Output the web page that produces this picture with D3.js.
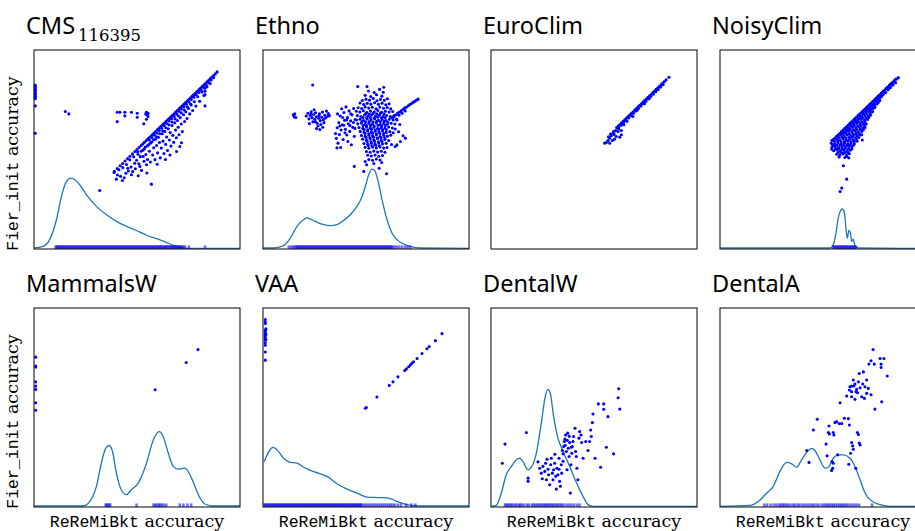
<!DOCTYPE html>
<html>
<head>
<meta charset="utf-8">
<script src="https://cdn.jsdelivr.net/npm/d3@7"></script>
<style>
    body { margin: 0; background: #fff; }
    svg { display: block; }
    .title { font-family: "Noto Sans", sans-serif; font-size: 23.5px; fill: #000; }
    .sub { font-family: "DejaVu Serif", serif; font-size: 16.5px; }
    .mono { font-family: "Liberation Mono", monospace; font-size: 16.5px; }
    .serif { font-family: "DejaVu Serif", serif; font-size: 17.5px; }
</style>
</head>
<body>
<div id="chart"></div>
<script>
// Panel titles, in grid order (row by row)
const panelNames = ["CMS", "Ethno", "EuroClim", "NoisyClim", "MammalsW", "VAA", "DentalW", "DentalA"];
const panelSubs = ["116395", "", "", "", "", "", "", ""];
const xLabelMono = "ReReMiBkt";
const yLabelMono = "Fier_init";
const labelWord = " accuracy";

// ---- CMS ----
const cmsPoints = [
    [0.6,82.4],[0.6,81.7],[0.6,81.0],[0.6,80.3],[0.6,79.6],[0.6,78.9],[0.6,78.2],[0.6,77.5],[0.6,76.8],[0.6,76.1],[0.6,75.5],[0.6,71.9],[0.6,58.2],
    [15.2,69.1],[16.9,67.9],
    [40.4,68.7],[41.7,68.7],[44.1,68.7],[44.1,66.9],[47.3,68.7],[50.1,68.2],[50.1,66.2],[54.6,68.7],[55.4,68.2],[55.4,66.6],[54.6,65.2],[40.4,64.0],[53.3,62.9],[55.0,67.4],[54.2,67.8],
    [31.9,29.4],[57.0,32.6],
    [39.0,39.0],[40.4,40.4],[41.8,41.8],[43.0,43.0],[44.2,44.2],[45.4,45.4],[46.6,46.6],[47.8,47.8],[49.0,49.0],[50.0,50.0],[51.0,51.0],[52.0,52.0],[52.8,52.8],[53.6,53.6],[54.4,54.4],[55.2,55.2],[56.0,56.0],[56.8,56.8],[57.6,57.6],[58.4,58.4],[59.2,59.2],[60.0,60.0],[60.8,60.8],[61.6,61.6],[62.4,62.4],[63.2,63.2],[64.0,64.0],[64.8,64.8],[65.6,65.6],[66.4,66.4],[67.2,67.2],[68.0,68.0],[68.8,68.8],[69.6,69.6],[70.4,70.4],[71.2,71.2],[72.0,72.0],[72.8,72.8],[73.6,73.6],[74.4,74.4],[75.2,75.2],[76.0,76.0],[76.8,76.8],[77.6,77.6],[78.4,78.4],[79.2,79.2],[80.0,80.0],[80.8,80.8],[81.6,81.6],[82.4,82.4],[83.2,83.2],[84.0,84.0],[84.8,84.8],[85.6,85.6],[86.4,86.4],[87.2,87.2],[88.0,88.0],[88.9,89.0],
    [56.0,54.8],[57.2,56.0],[58.4,57.2],[59.6,58.3],[60.8,59.5],[62.0,60.7],[63.2,61.9],[64.4,63.1],[65.6,64.3],[66.8,65.5],[68.0,66.7],[69.2,67.9],[70.4,69.1],[71.6,70.3],[72.8,71.5],[74.0,72.7],[75.2,73.9],[76.4,75.1],[77.6,76.3],[78.8,77.5],[80.0,78.7],[81.2,79.9],[82.4,81.1],[83.6,82.3],[84.8,83.6],[86.0,84.9],[87.2,86.1],
    [50.5,47.6],[52.0,49.1],[53.5,50.3],[55.0,51.8],[56.5,53.2],[58.0,54.9],[59.5,56.4],[61.0,57.9],[62.5,59.3],[64.0,60.9],[65.5,62.4],[67.0,63.8],[68.5,65.4],[70.0,66.9],[71.5,68.4],[73.0,69.8],[74.5,71.3],[76.0,72.9],
    [38.9,38.5],[40.0,35.1],[42.9,34.4],[44.6,38.1],[45.5,40.6],[47.3,37.3],[48.9,43.1],[51.4,41.5],[53.0,46.5],[54.6,42.3],[69.2,49.0],[70.8,51.5],[83.0,71.9],[83.0,77.6],[83.0,79.3],[83.0,80.8],
    [40.5,37.2],[41.2,39.8],[42.0,36.5],[43.1,40.9],[43.8,35.8],[44.9,42.5],[45.8,39.2],[46.5,44.8],[47.1,41.2],[47.9,38.9],[48.4,46.3],[49.2,40.3],[49.8,44.6],[50.3,48.9],[50.9,42.8],[51.6,46.4],[52.2,39.5],[52.8,49.6],[53.4,44.1],[54.0,51.2],[54.3,47.5],[55.1,45.0],[55.6,52.3],[56.0,49.1],[56.5,43.7],[57.2,53.8],[57.6,47.2],[58.1,50.9],[58.7,44.9],[59.0,55.2],[59.5,52.0],[60.0,48.3],[60.4,56.1],[60.9,53.5],[61.3,45.8],[61.8,50.7],[62.2,57.9],[62.6,54.2],[63.1,48.0],[63.5,59.1],[63.9,52.6],[64.4,56.3],[64.8,49.5],[65.2,60.4],[65.7,54.8],[66.1,58.5],[66.5,51.7],[67.0,62.0],[67.4,57.1],[67.8,53.6],[68.3,63.4],[68.7,59.8],[69.1,55.9],[69.6,64.6],[70.0,61.2],[70.4,57.4],[71.0,66.0],[71.5,62.8],[72.0,59.0],[72.6,67.5],[73.1,64.1],[73.7,69.0],[74.3,65.6],[75.0,70.6],[75.6,67.9],[76.3,72.4],[77.0,69.6],[77.8,74.0],[78.6,71.8],[79.5,76.5],[80.4,74.2],[81.5,78.9],[82.5,77.1],[84.0,81.5],[85.5,83.2],[71.6,53.4],[66.0,47.2],[59.8,42.6],[54.8,38.2],[50.6,36.8],[63.8,45.0]
];
const cmsDensity = [
    [0,0.5],[4.4,1.3],[7.6,4.7],[10.9,14.7],[13.3,26.4],[15.7,33.9],[17.8,35.6],[19.8,34.8],[22.2,32.3],[25.4,27.3],[30.3,21.4],[35.2,17.2],[40.0,13.9],[44.9,11.4],[48.1,10.0],[51.4,8.5],[54.6,6.9],[59.5,5.2],[64.3,3.3],[67.6,1.8],[70.8,0.7],[74.1,0.3],[100,0.3]
];
const cmsRug = [
    10.5,11.0,11.5,12.0,12.5,13.0,13.5,14.0,14.5,15.0,15.5,16.0,16.5,17.0,17.5,18.0,18.5,19.0,19.5,20.0,20.5,21.0,21.5,22.0,22.5,23.0,23.5,24.0,24.5,
    25.0,25.5,26.0,26.5,27.0,27.5,28.0,28.5,29.0,29.5,30.0,30.5,31.0,31.5,32.0,32.5,33.0,33.5,34.0,34.5,35.0,35.5,36.0,36.5,37.0,37.5,38.0,38.5,39.0,39.5,
    40.0,40.5,41.0,41.5,42.0,42.5,43.0,43.5,44.0,44.5,45.0,45.5,46.0,46.5,47.0,47.5,48.0,48.5,49.0,49.5,50.0,50.5,51.0,51.5,52.0,52.5,53.0,53.5,54.0,54.5,
    55.0,55.5,56.0,56.5,57.0,57.5,58.0,58.5,59.0,59.5,60.0,60.5,61.0,61.5,62.0,62.5,63.0,63.5,64.0,64.5,65.0,65.5,66.0,66.5,67.0,67.5,68.0,68.5,69.0,69.5,
    70.0,70.5,71.0,71.5,72.0,72.6,73.3,75.2,83.0
];

// ---- Ethno ----
const ethnoPoints = [
    [14.7,67.5],[15.1,66.4],[15.4,67.9],[15.9,66.1],[24.1,82.4],
    [21.0,66.8],[21.8,68.2],[22.3,65.4],[22.9,67.1],[23.4,69.0],[23.8,66.0],[24.2,63.9],[24.6,67.6],[25.1,65.2],[25.5,68.5],[25.9,66.4],[26.3,63.2],[26.7,61.8],[27.0,65.7],[27.4,67.9],[27.8,64.5],[28.1,62.6],[28.5,66.2],[28.9,68.8],[29.3,65.0],[29.6,63.5],[30.0,67.2],[30.4,65.8],[30.8,69.3],[31.2,66.6],[31.7,68.1],[32.2,67.0],[26.0,60.5],[27.6,60.0],[24.8,70.0],[22.5,63.0],[29.0,61.2],[25.4,64.0],[23.3,67.7],[27.2,66.9],
    [35.2,58.0],[35.6,55.6],[36.0,60.9],[36.4,53.2],[36.8,63.5],[37.1,57.5],[37.5,66.8],[37.9,59.8],[38.2,70.5],[38.5,62.4],[38.9,55.0],[39.3,68.6],[39.6,64.7],[40.0,60.2],[40.3,71.4],[40.7,57.3],[41.0,66.0],[41.4,62.9],[41.8,69.4],[42.1,59.1],[42.5,64.4],[42.9,52.4],[43.2,67.4],[43.6,61.2],[44.0,70.6],[44.3,56.6],[44.7,65.1],[36.2,67.9],[37.7,51.0],[38.7,66.1],[39.8,58.4],[41.2,54.0],[42.6,68.0],[43.9,63.6],[40.6,64.8],[37.3,61.8],[35.9,50.8],[39.2,62.2],[42.2,62.0],[44.6,60.6],
    [51.2,79.4],[54.0,78.6],[56.6,80.2],[58.4,78.8],[49.6,77.2],[52.3,76.6],[55.1,77.5],[57.7,76.8],[50.5,81.6],[58.6,81.3],[46.0,81.6],
    [48.2,74.6],[50.0,75.3],[51.7,74.8],[53.5,75.6],[55.3,74.5],[57.0,75.2],[58.9,74.7],[60.4,75.5],
    [47.1,73.4],[48.9,72.6],[50.6,73.2],[52.4,72.8],[54.2,73.5],[56.0,72.7],[57.8,73.3],[59.6,72.5],[61.2,73.0],
    [46.2,71.0],[47.9,70.6],[49.6,71.4],[51.3,70.8],[53.1,71.2],[54.9,70.5],[56.7,71.3],[58.5,70.7],[60.3,71.1],[62.0,70.4],
    [45.3,69.2],[47.0,68.8],[48.7,69.5],[50.4,68.6],[52.2,69.3],[54.0,68.9],[55.8,69.6],[57.6,68.7],[59.4,69.2],[61.2,68.8],[63.0,69.1],
    [45.8,67.0],[47.5,66.6],[49.3,67.3],[51.0,66.8],[52.8,67.4],[54.6,66.7],[56.4,67.2],[58.2,66.5],[60.0,67.1],[61.8,66.6],[63.6,67.0],
    [45.4,64.8],[47.1,65.2],[48.9,64.6],[50.6,65.3],[52.4,64.9],[54.2,65.4],[56.0,64.7],[57.8,65.1],[59.6,64.6],[61.4,65.2],[63.2,64.8],[64.8,65.3],
    [46.0,62.9],[47.8,63.3],[49.6,62.7],[51.4,63.2],[53.2,62.8],[55.0,63.4],[56.8,62.6],[58.6,63.1],[60.4,62.7],[62.2,63.2],[64.0,62.8],
    [46.6,61.0],[48.4,60.6],[50.2,61.3],[52.0,60.8],[53.8,61.2],[55.6,60.5],[57.4,61.1],[59.2,60.7],[61.0,61.3],[62.8,60.8],
    [47.2,59.1],[49.0,58.7],[50.8,59.3],[52.6,58.6],[54.4,59.2],[56.2,58.8],[58.0,59.4],[59.8,58.6],[61.6,59.0],[63.2,58.4],
    [47.8,57.0],[49.6,56.6],[51.4,57.2],[53.2,56.8],[55.0,57.3],[56.8,56.5],[58.6,57.1],[60.4,56.7],[62.0,57.2],
    [48.4,55.2],[50.2,54.7],[52.0,55.3],[53.8,54.8],[55.6,55.4],[57.4,54.6],[59.2,55.1],[61.0,54.5],
    [49.0,53.0],[50.8,52.6],[52.6,53.2],[54.4,52.7],[56.2,53.3],[58.0,52.8],[59.8,53.1],[62.4,52.5],
    [49.6,51.1],[51.4,50.6],[53.2,51.2],[55.0,50.8],[56.8,51.3],[58.6,50.7],[60.2,51.0],
    [50.2,49.0],[52.0,48.6],[53.8,49.2],[55.6,48.7],[57.4,49.1],[59.2,48.6],
    [50.8,47.1],[52.6,46.7],[54.4,47.2],[56.2,46.6],[58.0,47.0],
    [51.4,45.0],[53.2,44.6],[55.0,45.2],[56.8,44.7],
    [44.3,41.5],[48.9,39.0],[50.3,42.3],[53.8,43.0],[56.4,40.6],[60.0,37.8],[57.6,43.5],[49.6,44.0],
    [49.8,68.0],[51.6,67.8],[53.4,68.1],[55.2,67.9],[57.0,68.2],[58.8,67.8],
    [48.5,66.0],[50.3,65.9],[52.1,66.1],[53.9,65.8],[55.7,66.2],[57.5,65.9],[59.3,66.0],
    [48.0,64.0],[49.8,63.9],[51.6,64.1],[53.4,63.8],[55.2,64.2],[57.0,63.9],[58.8,64.0],[60.6,63.8],
    [48.6,62.0],[50.4,61.9],[52.2,62.1],[54.0,61.8],[55.8,62.1],[57.6,61.9],[59.4,62.0],
    [49.1,60.0],[50.9,59.9],[52.7,60.1],[54.5,59.8],[56.3,60.1],[58.1,59.9],[59.9,60.0],
    [49.6,58.0],[51.4,57.9],[53.2,58.1],[55.0,57.8],[56.8,58.0],[58.6,58.1],
    [50.1,56.0],[51.9,55.9],[53.7,56.1],[55.5,55.8],[57.3,56.0],[59.1,55.9],
    [50.6,54.0],[52.4,53.9],[54.2,54.1],[56.0,53.8],[57.8,54.0],
    [51.1,52.0],[52.9,51.9],[54.7,52.1],[56.5,51.8],
    [63.5,66.4],[64.6,67.5],[65.4,68.3],[66.3,68.8],[67.1,69.5],[68.0,70.2],[68.8,70.9],[69.7,71.3],[70.5,72.0],[71.3,72.6],[72.2,73.2],[73.0,73.8],[73.8,74.3],[74.6,74.9],[75.3,75.3],[66.0,67.2],[67.5,68.2],[69.0,69.4],[62.8,66.0],[65.0,64.8],
    [68.0,56.9],[69.1,55.7],[66.7,54.0],[65.0,52.3],[64.2,51.5],[64.2,60.3],[65.8,58.9],[66.4,62.6]
];
const ethnoDensity = [
    [0,0.5],[5.2,0.5],[10.0,1.7],[13.3,5.5],[16.5,11.4],[19.7,14.7],[21.4,15.6],[23.8,14.7],[27.8,12.7],[32.7,11.7],[35.9,12.2],[39.2,14.4],[42.4,17.2],[45.6,21.4],[48.1,26.4],[49.7,31.4],[51.3,37.3],[52.9,40.1],[54.2,39.5],[55.7,34.8],[57.8,24.7],[60.2,14.7],[62.6,8.0],[65.0,4.7],[68.3,2.5],[71.5,1.3],[76.4,0.5],[100,0.3]
];
const ethnoRug = [
    12.5,13.6,14.5,15.3,16.0,16.5,17.0,17.5,18.0,18.5,19.0,19.5,20.0,20.5,21.0,21.5,22.0,22.5,23.0,23.5,24.0,24.5,25.0,25.5,26.0,26.5,27.0,27.5,28.0,28.5,
    29.0,29.5,30.0,30.5,31.0,31.5,32.0,32.5,33.0,33.5,34.0,34.5,35.0,35.5,36.0,36.5,37.0,37.5,38.0,38.5,39.0,39.5,40.0,40.5,41.0,41.5,42.0,42.5,43.0,43.5,
    44.0,44.5,45.0,45.5,46.0,46.5,47.0,47.5,48.0,48.5,49.0,49.5,50.0,50.5,51.0,51.5,52.0,52.5,53.0,53.5,54.0,54.5,55.0,55.5,56.0,56.5,57.0,57.5,58.0,58.5,
    59.0,59.5,60.0,60.5,61.0,61.5,62.0,62.5,63.0,64.0,65.0,66.2,67.5,69.0,70.2,71.5
];

// ---- EuroClim ----
const euroPoints = [
    [61.0,61.0],[61.8,61.8],[62.6,62.6],[63.4,63.4],[64.2,64.2],[65.0,65.0],[65.8,65.8],[66.6,66.6],[67.4,67.4],[68.2,68.2],[69.0,69.0],[69.8,69.8],[70.6,70.6],[71.4,71.4],[72.2,72.2],[73.0,73.0],[73.8,73.8],[74.6,74.6],[75.4,75.4],[76.2,76.2],[77.0,77.0],[77.8,77.8],[78.6,78.6],[79.4,79.4],[80.2,80.2],[81.0,81.0],[81.8,81.8],[82.6,82.6],[83.4,83.4],[84.2,84.2],[85.0,85.0],[86.4,86.3],
    [62.0,61.0],[63.2,62.2],[64.4,63.4],[65.6,64.6],[66.8,65.8],[68.0,67.0],[69.2,68.2],[70.4,69.4],[71.6,70.6],[72.8,71.8],[74.0,73.0],[75.2,74.2],[76.4,75.4],[77.6,76.6],[78.8,77.8],[80.0,79.0],[81.2,80.2],[82.4,81.4],[83.6,82.6],
    [55.2,53.2],[56.0,53.5],[56.8,54.5],[57.6,55.7],[58.4,56.9],[59.2,58.2],[59.5,59.0],[60.5,59.5],[61.7,59.0],[63.3,59.5],[63.3,57.4],[62.5,56.2],[60.8,56.5],[58.9,54.5],[57.6,53.2],[60.0,55.2],[61.7,61.2],[58.0,57.8],[59.8,57.6],[62.0,60.4],[57.0,56.4],[64.5,62.5],[66.0,64.2],[68.1,67.4],[68.9,66.6],[71.0,69.8],[80.3,79.9],[82.2,81.5],[74.5,73.0],[76.8,75.6]
];

// ---- NoisyClim ----
const noisyPoints = [
    [55.0,55.0],[55.8,55.8],[56.6,56.6],[57.4,57.4],[58.2,58.2],[59.0,59.0],[59.8,59.8],[60.6,60.6],[61.4,61.4],[62.2,62.2],[63.0,63.0],[63.8,63.8],[64.6,64.6],[65.4,65.4],[66.2,66.2],[67.0,67.0],[67.8,67.8],[68.6,68.6],[69.4,69.4],[70.2,70.2],[71.0,71.0],[71.8,71.8],[72.6,72.6],[73.4,73.4],[74.2,74.2],[75.0,75.0],[75.8,75.8],[76.6,76.6],[77.4,77.4],[78.2,78.2],[79.0,79.0],[79.8,79.8],[80.6,80.6],[81.4,81.4],[82.2,82.2],[83.0,83.0],[83.8,83.8],[84.6,84.6],[85.4,85.4],[86.6,86.1],
    [60.0,58.4],[61.2,59.6],[62.4,60.8],[63.6,62.0],[64.8,63.2],[66.0,64.4],[67.2,65.6],[68.4,66.8],[69.6,68.0],[70.8,69.2],[72.0,70.4],[73.2,71.6],[74.4,72.8],[75.6,74.0],[76.8,75.2],[78.0,76.4],[79.2,77.6],[80.4,78.8],[81.6,80.0],[82.8,81.2],[84.0,82.4],[85.2,83.6],
    [56.6,47.6],[58.2,47.2],[59.8,47.8],[61.4,47.3],[62.8,47.9],
    [55.2,49.4],[56.8,49.8],[58.4,49.3],[60.0,49.7],[61.6,49.2],[63.2,49.6],
    [54.4,51.2],[56.0,51.5],[57.6,51.0],[59.2,51.4],[60.8,51.1],[62.4,51.6],[64.0,51.2],
    [54.0,53.1],[55.6,52.8],[57.2,53.3],[58.8,52.9],[60.4,53.2],[62.0,52.8],[63.6,53.3],[65.2,52.9],
    [55.0,54.8],[56.6,55.2],[58.2,54.9],[59.8,55.3],[61.4,54.7],[63.0,55.1],[64.6,54.8],[66.2,55.2],[68.8,57.4],[69.1,54.8],
    [57.0,56.8],[58.6,57.2],[60.2,56.9],[61.8,57.3],[63.4,56.8],[65.0,57.1],[66.6,56.9],[68.0,57.3],
    [59.2,59.0],[60.8,58.8],[62.4,59.2],[64.0,58.9],[65.6,59.3],[67.2,58.8],[68.8,59.1],
    [61.2,61.0],[62.8,60.8],[64.4,61.2],[66.0,60.9],[67.6,61.3],[69.2,60.8],[70.4,61.1],
    [63.2,63.0],[64.8,62.8],[66.4,63.2],[68.0,62.9],[69.6,63.1],[71.0,62.8],
    [65.2,65.0],[66.8,64.8],[68.4,65.2],[70.0,64.9],[71.6,65.1],
    [67.2,67.0],[68.8,66.8],[70.4,67.1],[72.0,66.8],[73.0,67.2],
    [69.2,69.0],[70.8,68.8],[72.4,69.1],[73.6,68.7],[74.1,69.1],[74.4,70.7],
    [71.2,71.0],[72.8,70.8],[74.4,70.7],[75.2,71.2],
    [73.2,73.0],[74.8,72.8],[76.2,72.9],
    [75.2,75.0],[76.6,74.8],[77.6,74.6],
    [77.1,77.0],[78.4,76.7],[79.0,79.0],[80.2,78.6],[81.0,81.0],[81.9,80.5],[83.0,83.0],[83.8,82.6],[85.8,85.4],
    [57.4,48.5],[59.0,48.4],[60.6,48.6],[62.2,48.5],
    [56.0,50.4],[57.6,50.5],[59.2,50.3],[60.8,50.5],[62.4,50.4],[64.0,50.3],
    [55.2,52.2],[56.8,52.1],[58.4,52.3],[60.0,52.2],[61.6,52.1],[63.2,52.3],[64.8,52.1],
    [55.6,54.0],[57.2,54.1],[58.8,53.9],[60.4,54.0],[62.0,54.1],[63.6,53.9],[65.2,54.0],[66.6,54.2],
    [57.8,56.0],[59.4,56.1],[61.0,55.9],[62.6,56.0],[64.2,56.1],[65.8,55.9],[67.4,56.0],
    [59.6,58.0],[61.2,58.1],[62.8,57.9],[64.4,58.0],[66.0,58.1],[67.6,57.9],
    [61.6,60.0],[63.2,60.1],[64.8,59.9],[66.4,60.0],[68.0,60.1],[69.6,59.9],
    [63.6,62.0],[65.2,62.1],[66.8,61.9],[68.4,62.0],[70.0,62.1],
    [65.6,64.0],[67.2,64.1],[68.8,63.9],[70.4,64.0],
    [67.6,66.0],[69.2,66.1],[70.8,65.9],[72.2,66.1],
    [69.6,68.0],[71.2,68.1],[72.8,67.9],
    [71.6,70.0],[73.2,70.1],[73.6,72.0],[75.0,71.8],[75.6,74.0],[76.8,73.6],[77.6,76.0],[79.4,78.0],
    [54.3,54.5],[54.8,52.0],[54.2,50.2],
    [59.9,41.8],[61.5,35.1],[59.1,30.6],[58.3,28.9],[60.6,46.0],[62.5,45.8],[57.8,46.2],[61.5,46.5]
];
const noisyDensity = [
    [0,0.5],[53.4,0.5],[55.0,2.2],[56.3,8.0],[57.4,15.6],[58.6,19.4],[59.5,20.1],[60.4,18.1],[61.2,9.7],[61.8,5.5],[62.6,9.4],[63.3,8.0],[63.9,3.8],[64.7,5.0],[65.5,1.7],[67.2,0.5],[100,0.3]
];
const noisyRug = [
    55.0,55.5,56.0,56.5,57.0,57.5,58.0,58.5,59.0,59.5,60.0,60.5,61.0,61.5,62.0,62.5,63.0,63.5,64.0,64.5,65.0,65.5,66.0
];

// ---- MammalsW ----
const mammalsPoints = [
    [0.8,75.3],[0.8,70.8],[0.8,70.3],[0.8,62.9],[0.8,60.8],[0.8,59.1],[0.8,52.4],[0.8,48.6],
    [58.8,58.9],[73.9,72.6],[79.6,79.1]
];
const mammalsDensity = [
    [0,0.5],[23.8,0.5],[27.1,2.8],[30.3,10.4],[32.7,22.0],[34.8,29.5],[36.5,30.9],[38.1,27.9],[40.0,17.0],[42.5,8.3],[44.9,6.2],[47.3,8.7],[50.6,12.0],[54.6,22.0],[57.9,33.7],[60.8,37.9],[62.7,35.4],[65.2,27.0],[67.6,20.4],[70.0,19.0],[73.3,19.5],[75.7,16.2],[78.1,10.4],[80.6,4.5],[83.0,1.5],[87.0,0.5],[100,0.5]
];
const mammalsRug = [34.8,35.2,35.8,36.5,37.0,49.8,58.0,58.8,59.6,60.5,61.2,62.0,63.0,64.2,70.8,72.5,74.5,76.3];

// ---- VAA ----
const vaaPoints = [
    [1.1,94.2],[1.1,93.0],[1.1,92.2],[1.1,88.8],[1.1,88.0],[1.1,87.1],[1.1,86.3],[1.1,85.5],[1.1,84.6],[1.1,83.8],[1.1,82.5],[1.1,81.3],[1.1,77.9],[1.1,73.8],[1.4,89.5],[1.4,86.8],[1.4,84.2],
    [49.7,49.6],[50.2,50.0],[55.3,55.3],[61.3,61.1],[63.1,62.9],[65.5,65.4],[68.8,68.6],[69.6,69.4],[70.7,70.5],[71.5,71.3],[72.3,72.2],[73.1,73.0],[74.8,74.6],[77.2,77.1],[79.6,79.5],[80.7,80.6],[83.7,83.6],[86.9,87.1]
];
const vaaDensity = [
    [0.6,22.9],[4.9,30.0],[6.8,28.7],[10.0,24.5],[12.5,22.7],[16.5,22.0],[20.6,19.5],[25.4,17.5],[31.1,15.4],[35.9,11.7],[40.8,9.0],[45.6,7.0],[50.5,5.0],[53.7,4.8],[58.6,4.7],[61.8,4.2],[65.0,2.8],[69.9,1.2],[74.8,0.5],[100,0.5]
];
const vaaRug = [
    0.5,1.0,1.5,2.0,2.5,3.0,3.5,4.0,4.5,5.0,5.5,6.0,6.5,7.0,7.5,8.0,8.5,9.0,9.5,10.0,10.5,11.0,11.5,12.0,12.5,13.0,13.5,14.0,14.5,15.0,
    15.5,16.0,16.5,17.0,17.5,18.0,18.5,19.0,19.5,20.0,20.5,21.0,21.5,22.0,22.5,23.0,23.5,24.0,24.5,25.0,25.5,26.0,26.5,27.0,27.5,28.0,28.5,29.0,29.5,30.0,
    30.5,31.0,31.5,32.0,32.5,33.0,33.5,34.0,34.5,35.0,35.5,36.0,36.5,37.0,37.5,38.0,38.5,39.0,39.5,40.0,40.5,41.0,41.5,42.0,42.5,43.0,43.5,44.0,44.5,45.0,
    45.5,46.0,46.5,47.0,47.5,48.0,49.0,50.0,51.0,52.0,53.0,54.0,55.0,56.0,57.0,58.0,59.0,60.0,61.0,62.0,63.0,64.0,65.5,67.0,69.5,72.0,74.0
];

// ---- DentalW ----
const dentalWPoints = [
    [5.5,22.0],[6.8,31.6],[17.2,37.4],[18.0,14.5],[18.0,12.9],[22.8,22.7],[23.6,19.5],[24.4,17.0],[24.9,14.2],[25.2,20.4],[26.1,17.9],[26.5,22.0],[26.9,13.7],[27.7,19.0],[28.0,16.2],[28.5,11.2],[29.0,21.2],[29.3,24.5],[29.8,17.0],[30.1,13.7],
    [30.4,18.7],[30.9,22.0],[31.4,15.4],[31.7,9.0],[32.0,19.5],[32.5,16.2],[33.0,24.5],[33.3,12.9],[33.7,10.4],[34.1,21.2],[34.3,17.0],[34.6,28.4],[35.0,26.7],[35.3,30.4],[35.6,32.9],[35.9,34.1],[36.2,36.2],[36.6,27.9],[36.9,18.7],[37.2,37.1],
    [37.5,29.5],[37.9,25.4],[38.2,32.4],[38.5,7.0],[38.8,21.2],[39.2,27.0],[39.5,30.4],[39.8,32.9],[40.1,35.4],[40.8,39.6],[41.1,27.9],[41.4,25.4],[41.7,19.5],[42.2,13.7],[42.7,34.6],[43.0,37.9],[43.7,36.2],[44.0,32.4],[44.7,24.5],[46.0,32.9],
    [47.1,28.4],[47.9,32.9],[48.4,38.7],[48.7,35.4],[49.2,42.4],[49.5,46.7],[50.5,24.5],[52.1,51.8],[53.2,20.0],[54.7,51.8],[54.7,49.1],[56.0,30.0],[56.8,45.4],[59.5,26.7],[61.7,54.9],[62.0,59.4],[62.5,49.2],
    [27.2,24.0],[31.0,26.5],[36.0,31.0],[38.0,35.5],[39.0,30.0],[35.0,23.0],[33.0,19.0],[37.0,33.5]
];
const dentalWDensity = [
    [0,0.3],[2.6,0.8],[5.0,7.0],[7.4,16.2],[9.9,20.4],[12.3,23.7],[13.9,24.5],[15.5,22.9],[17.9,18.7],[19.6,20.0],[22.0,27.0],[24.4,42.1],[26.5,56.3],[27.7,59.1],[28.8,57.1],[30.4,45.4],[32.5,34.6],[35.0,27.9],[38.2,20.4],[41.4,12.4],[44.7,5.3],[47.1,1.2],[49.5,0.3],[100,0.3]
];
const dentalWRug = [
    6.8,7.5,8.2,9.0,9.8,10.5,11.6,12.4,13.5,14.2,15.0,16.1,17.5,18.3,19.8,20.6,21.4,22.3,23.1,24.0,24.8,25.6,26.3,27.1,27.8,28.6,29.4,30.1,31.0,31.8,32.6,33.5,34.3,35.2,36.6,37.8,39.0,40.3,41.8,43.0
];

// ---- DentalA ----
const dentalAPoints = [
    [42.1,28.4],[43.2,22.4],[45.3,38.7],[47.2,44.1],[51.5,31.6],[52.0,25.7],[52.6,37.4],[52.9,40.7],[53.1,36.7],[55.0,37.4],[55.3,36.2],[55.8,42.4],[56.6,42.9],[57.9,41.9],[59.1,41.9],
    [54.4,22.9],[54.7,19.5],[54.2,18.4],[55.0,22.0],[57.1,26.2],[58.3,52.4],[60.4,44.6],[62.3,44.4],[62.8,41.2],[62.5,21.5],[63.4,27.0],[63.9,32.4],[64.4,30.7],[64.7,29.0],
    [66.7,37.4],[67.2,36.4],[67.6,32.1],[68.0,31.2],[65.9,19.5],
    [74.3,79.1],[77.7,74.6],[79.6,74.6],[78.2,71.8],[78.2,70.1],[81.2,65.8],[72.3,71.8],[73.3,73.5],[74.9,71.8],[67.6,67.1],[69.6,67.9],[71.2,63.8],[72.0,59.6],
    [64.7,63.8],[65.5,61.8],[63.9,60.8],[63.1,60.4],[62.8,58.8],[63.9,57.9],[61.5,55.8],[63.9,55.4],[65.5,54.1],[66.8,57.4],[68.8,55.4],[70.1,54.6],[71.2,57.1],[73.3,56.4],[75.2,49.2],[78.5,52.9],
    [67.2,62.9],[66.3,59.1],[65.0,60.8],[69.3,61.8],[70.4,60.4],[68.0,59.9],[66.0,57.9]
];
const dentalADensity = [
    [0,0.3],[14.6,0.8],[18.6,2.8],[22.7,7.0],[25.9,10.4],[29.1,17.9],[32.4,22.4],[34.8,21.7],[37.2,20.0],[39.6,23.7],[42.4,27.9],[44.5,29.5],[46.1,28.4],[48.5,23.7],[51.0,19.5],[52.6,20.0],[55.0,24.5],[57.4,26.2],[59.9,26.2],[63.1,24.5],[65.5,20.4],[68.0,13.7],[70.4,7.0],[72.8,3.7],[77.7,1.2],[82.5,0.3],[100,0.3]
];
const dentalARug = [
    21.5,22.8,24.5,26.0,27.3,28.6,29.5,30.4,31.2,32.1,33.0,34.2,35.5,36.3,37.6,38.5,39.8,41.0,42.2,43.4,44.6,45.5,46.8,48.0,49.5,50.6,51.5,52.4,53.3,54.2,55.1,56.0,57.0,57.9,58.8,59.7,60.6,61.5,62.6,63.8,65.0,66.2,67.5,73.8
];

// panel table built from the named arrays
const panels = [
    { points: cmsPoints, density: cmsDensity, rug: cmsRug },
    { points: ethnoPoints, density: ethnoDensity, rug: ethnoRug },
    { points: euroPoints, density: [], rug: [] },
    { points: noisyPoints, density: noisyDensity, rug: noisyRug },
    { points: mammalsPoints, density: mammalsDensity, rug: mammalsRug },
    { points: vaaPoints, density: vaaDensity, rug: vaaRug },
    { points: dentalWPoints, density: dentalWDensity, rug: dentalWRug },
    { points: dentalAPoints, density: dentalADensity, rug: dentalARug }
];

// layout
const width = 915, height = 531;
const frameW = 206, frameH = 199;
const colLeft = [34, 263, 491, 720];
const rowTop = [50, 308];

const svg = d3.select("#chart")
    .append("svg")
    .attr("width", width)
    .attr("height", height)
    .style("background", "#fff");

panels.forEach((p, i) => {
    const col = i % 4, row = Math.floor(i / 4);
    const left = colLeft[col], top = rowTop[row];

    const x = d3.scaleLinear().domain([0, 100]).range([left, left + frameW]);
    const y = d3.scaleLinear().domain([0, 100]).range([top + frameH, top]);

    const g = svg.append("g");

    // density curve
    if (p.density.length) {
        g.append("path")
            .datum(p.density)
            .attr("fill", "none")
            .attr("stroke", "#1f77b4")
            .attr("stroke-width", 1.3)
            .attr("d", d3.line()
                .x(d => x(d[0]))
                .y(d => y(d[1]))
                .curve(d3.curveMonotoneX));
    }

    // rug (translucent ticks, overlapping ones saturate)
    g.selectAll("line.rug")
        .data(p.rug)
        .join("line")
        .attr("class", "rug")
        .attr("x1", d => x(d))
        .attr("x2", d => x(d))
        .attr("y1", y(0))
        .attr("y2", y(1.8))
        .attr("stroke", "#0000ff")
        .attr("stroke-opacity", 0.55)
        .attr("stroke-width", 2.6);

    // scatter
    g.selectAll("circle")
        .data(p.points)
        .join("circle")
        .attr("cx", d => x(d[0]))
        .attr("cy", d => y(d[1]))
        .attr("r", 1.55)
        .attr("fill", "#0000ff");

    // frame
    g.append("rect")
        .attr("x", x(0))
        .attr("y", y(100))
        .attr("width", x(100) - x(0))
        .attr("height", y(0) - y(100))
        .attr("fill", "none")
        .attr("stroke", "#1a1a1a")
        .attr("stroke-width", 1.1);

    // title
    const t = g.append("text")
        .attr("class", "title")
        .attr("x", left - 8)
        .attr("y", top - 16.5)
        .text(panelNames[i]);
    if (panelSubs[i]) {
        t.append("tspan")
            .attr("class", "sub")
            .attr("dx", 3)
            .attr("dy", 7.5)
            .text(panelSubs[i]);
    }

    // y label on first column
    if (col === 0) {
        const yl = g.append("text")
            .attr("transform", `translate(18,${top + frameH / 2 + 14}) rotate(-90)`)
            .attr("text-anchor", "middle");
        yl.append("tspan").attr("class", "mono").text(yLabelMono);
        yl.append("tspan").attr("class", "serif").text(labelWord);
    }

    // x label on bottom row
    if (row === 1) {
        const xl = g.append("text")
            .attr("x", left + frameW / 2)
            .attr("y", 527)
            .attr("text-anchor", "middle");
        xl.append("tspan").attr("class", "mono").text(xLabelMono);
        xl.append("tspan").attr("class", "serif").text(labelWord);
    }
});
</script>
</body>
</html>
